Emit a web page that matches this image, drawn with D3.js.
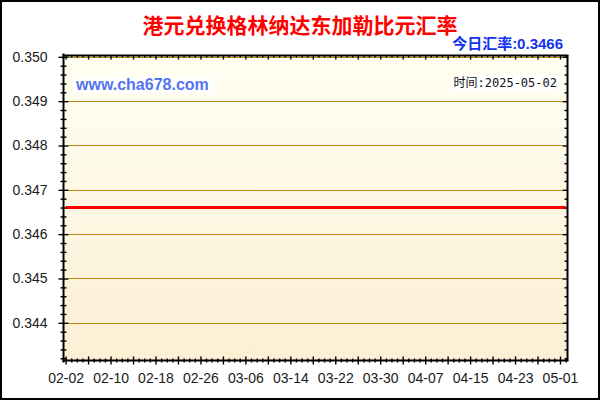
<!DOCTYPE html>
<html>
<head>
<meta charset="utf-8">
<script src="https://cdn.jsdelivr.net/npm/d3@7"></script>
<style>
	html, body { margin: 0; padding: 0; background: #fff; }
	svg { display: block; }
</style>
</head>
<body>
<svg id="chart"></svg>
<script>
	'use strict';
	// rate data (first and last day shown)
	var rateDates = ['2025-02-02', '2025-05-02'];
	var rateValues = [0.3466, 0.3466];

	var yTicks = [0.344, 0.345, 0.346, 0.347, 0.348, 0.349, 0.350];
	var yLabels = ['0.344', '0.345', '0.346', '0.347', '0.348', '0.349', '0.350'];
	var xLabelDates = ['2025-02-02', '2025-02-10', '2025-02-18', '2025-02-26', '2025-03-06', '2025-03-14',
		'2025-03-22', '2025-03-30', '2025-04-07', '2025-04-15', '2025-04-23', '2025-05-01'];
	var xLabels = ['02-02', '02-10', '02-18', '02-26', '03-06', '03-14',
		'03-22', '03-30', '04-07', '04-15', '04-23', '05-01'];

	var titleText = '港元兑换格林纳达东加勒比元汇率';
	var todayText = '今日汇率:0.3466';
	var siteText = 'www.cha678.com';
	var timeText = '时间:2025-05-02';

	var W = 600, H = 400;
	var plot = {left: 63.5, right: 567.5, top: 55.5, bottom: 360.5};

	var parse = d3.timeParse('%Y-%m-%d');
	var data = rateDates.map(function (d, i) {
		return {x: parse(d), y: rateValues[i]};
	});

	var svg = d3.select('#chart')
		.attr('width', W)
		.attr('height', H);

	var defs = svg.append('defs');
	var grad = defs.append('linearGradient')
		.attr('id', 'bg')
		.attr('x1', 0).attr('y1', 0).attr('x2', 0).attr('y2', 1);
	grad.append('stop').attr('offset', '0%').attr('stop-color', '#fffff2');
	grad.append('stop').attr('offset', '100%').attr('stop-color', '#fcefd4');

	// outer frame
	svg.append('rect')
		.attr('x', 1).attr('y', 1)
		.attr('width', W - 2).attr('height', H - 2)
		.attr('fill', '#fff')
		.attr('stroke', '#000')
		.attr('stroke-width', 2);

	svg.append('rect')
		.attr('x', plot.left).attr('y', plot.top)
		.attr('width', plot.right - plot.left)
		.attr('height', plot.bottom - plot.top)
		.attr('fill', 'url(#bg)');

	var first = d3.timeHour.offset(parse(rateDates[0]), -8.5);
	var last = d3.timeHour.offset(parse(rateDates[rateDates.length - 1]), 8.5);

	var x = d3.scaleTime()
		.domain([first, last])
		.range([plot.left, plot.right]);

	var y = d3.scaleLinear()
		.domain([0.34315, 0.35003])
		.range([plot.bottom, plot.top]);

	// tick sets
	var dayTicks = d3.timeDay.range(d3.timeDay.ceil(first), last, 1);
	var startDay = parse(xLabelDates[0]);
	var majorX = dayTicks.filter(function (d) {
		return Math.round((d - startDay) / 864e5) % 4 === 0;
	});
	var minorX = dayTicks.filter(function (d) {
		return Math.round((d - startDay) / 864e5) % 4 !== 0;
	});
	var minorY = d3.range(0, 35).map(function (i) {
		return +(0.3432 + i * 0.0002).toFixed(4);
	}).filter(function (v) {
		return v <= 0.3500 && yTicks.indexOf(v) < 0;
	});

	// grid lines
	svg.append('g')
		.selectAll('line')
		.data(yTicks)
		.enter().append('line')
		.attr('x1', plot.left + 5)
		.attr('x2', plot.right - 5)
		.attr('y1', function (d) { return Math.round(y(d)) + 0.5; })
		.attr('y2', function (d) { return Math.round(y(d)) + 0.5; })
		.attr('stroke', '#bb8a0c')
		.attr('stroke-width', 1.2);

	// red rate line
	var line = d3.line()
		.x(function (d) { return x(d.x); })
		.y(function (d) { return y(d.y); });

	svg.append('path')
		.datum(data)
		.attr('fill', 'none')
		.attr('stroke', '#ff0000')
		.attr('stroke-width', 3)
		.attr('d', line);

	function styleTicks(g, w) {
		g.select('.domain').remove();
		g.selectAll('.tick line').attr('stroke', '#000').attr('stroke-width', w);
		g.selectAll('.tick text').remove();
	}

	// bottom axis ticks (crossing)
	svg.append('g')
		.attr('transform', 'translate(0,' + (plot.bottom - 4) + ')')
		.call(d3.axisBottom(x).tickValues(majorX).tickSize(8))
		.call(styleTicks, 1.4);
	svg.append('g')
		.attr('transform', 'translate(0,' + (plot.bottom - 2) + ')')
		.call(d3.axisBottom(x).tickValues(minorX).tickSize(4))
		.call(styleTicks, 1.4);

	// top axis ticks (inward)
	svg.append('g')
		.attr('transform', 'translate(0,' + plot.top + ')')
		.call(d3.axisBottom(x).tickValues(majorX).tickSize(4))
		.call(styleTicks, 1.4);
	svg.append('g')
		.attr('transform', 'translate(0,' + plot.top + ')')
		.call(d3.axisBottom(x).tickValues(minorX).tickSize(2))
		.call(styleTicks, 1.4);

	// left axis ticks (crossing)
	svg.append('g')
		.attr('transform', 'translate(' + (plot.left - 5) + ',0)')
		.call(d3.axisRight(y).tickValues(yTicks).tickSize(10))
		.call(styleTicks, 1.4);
	svg.append('g')
		.attr('transform', 'translate(' + (plot.left - 3) + ',0)')
		.call(d3.axisRight(y).tickValues(minorY).tickSize(6))
		.call(styleTicks, 1.4);

	// right axis ticks (inward)
	svg.append('g')
		.attr('transform', 'translate(' + plot.right + ',0)')
		.call(d3.axisLeft(y).tickValues(yTicks).tickSize(5))
		.call(styleTicks, 1.4);
	svg.append('g')
		.attr('transform', 'translate(' + plot.right + ',0)')
		.call(d3.axisLeft(y).tickValues(minorY).tickSize(3))
		.call(styleTicks, 1.4);

	// axis lines
	var frame = svg.append('g').attr('stroke', '#000').attr('stroke-width', 2);
	frame.append('line').attr('x1', plot.left).attr('x2', plot.left).attr('y1', plot.top - 2).attr('y2', plot.bottom + 2);
	frame.append('line').attr('x1', plot.right).attr('x2', plot.right).attr('y1', plot.top).attr('y2', plot.bottom);
	frame.append('line').attr('x1', plot.left - 1).attr('x2', plot.right + 1).attr('y1', plot.top).attr('y2', plot.top);
	frame.append('line').attr('x1', plot.left - 1).attr('x2', plot.right + 1).attr('y1', plot.bottom).attr('y2', plot.bottom);

	// y labels
	var yAxis = svg.append('g')
		.attr('transform', 'translate(' + (plot.left - 13) + ',0)')
		.call(d3.axisLeft(y).tickValues(yTicks).tickSize(0)
			.tickFormat(function (d, i) { return yLabels[i]; }));
	yAxis.select('.domain').remove();
	yAxis.selectAll('text')
		.attr('font-family', 'Liberation Sans, Arial, sans-serif')
		.attr('font-size', 14)
		.attr('fill', '#1a1a1a');

	// x labels
	var xAxis = svg.append('g')
		.attr('transform', 'translate(0,' + (plot.bottom + 10) + ')')
		.call(d3.axisBottom(x).tickValues(xLabelDates.map(parse)).tickSize(0)
			.tickFormat(function (d, i) { return xLabels[i]; }));
	xAxis.select('.domain').remove();
	xAxis.selectAll('text')
		.attr('font-family', 'Liberation Sans, Arial, sans-serif')
		.attr('font-size', 14)
		.attr('fill', '#1a1a1a');

	// title
	svg.append('text')
		.attr('x', 300).attr('y', 32.5)
		.attr('text-anchor', 'middle')
		.attr('font-family', 'Noto Sans CJK SC, sans-serif')
		.attr('font-weight', 'bold')
		.attr('font-size', 21)
		.attr('fill', '#ff0000')
		.text(titleText);

	svg.append('text')
		.attr('x', 563).attr('y', 48.5)
		.attr('text-anchor', 'end')
		.attr('font-family', 'Liberation Sans, Noto Sans CJK SC, sans-serif')
		.attr('font-weight', 'bold')
		.attr('font-size', 15)
		.attr('fill', '#1133ee')
		.text(todayText);

	// watermark
	svg.append('rect')
		.attr('x', 74).attr('y', 77).attr('width', 139).attr('height', 16)
		.attr('fill', '#fff');
	svg.append('text')
		.attr('x', 76).attr('y', 90)
		.attr('font-family', 'Liberation Sans, Arial, sans-serif')
		.attr('font-weight', 'bold')
		.attr('font-size', 16)
		.attr('fill', '#5473ee')
		.text(siteText);

	svg.append('rect')
		.attr('x', 452).attr('y', 75).attr('width', 106).attr('height', 15)
		.attr('fill', '#fff');
	svg.append('text')
		.attr('x', 557).attr('y', 87)
		.attr('text-anchor', 'end')
		.attr('font-family', 'DejaVu Sans Mono, Noto Sans CJK SC, monospace')
		.attr('font-size', 12)
		.attr('fill', '#111')
		.text(timeText);
</script>
</body>
</html>
